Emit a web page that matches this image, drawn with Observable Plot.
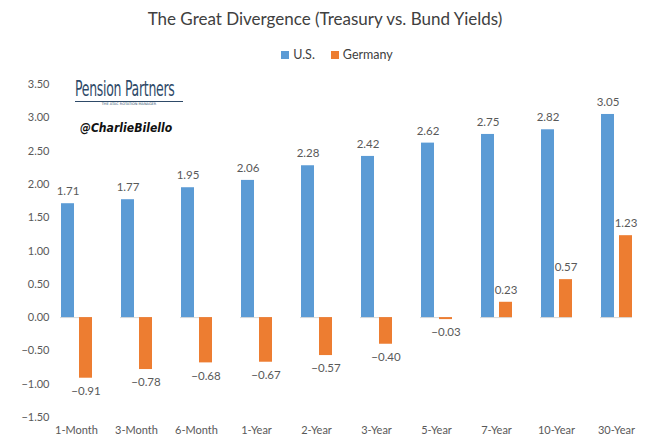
<!DOCTYPE html>
<html>
<head>
<meta charset="utf-8">
<script src="https://cdn.jsdelivr.net/npm/d3@7"></script>
<script src="https://cdn.jsdelivr.net/npm/@observablehq/plot@0.6"></script>
<style>
  html, body { margin: 0; padding: 0; background: #fff; }
  body { width: 650px; height: 448px; overflow: hidden; font-family: Lato, "Open Sans", sans-serif; }
  #wrap { position: relative; width: 650px; height: 448px; }
  #title { position: absolute; top: 8px; left: 0; width: 650px; text-align: center; font-size: 17px; color: #404040; }
  #legend { position: absolute; top: 47px; left: 0; width: 650px; display: flex; justify-content: center; gap: 16px; font-size: 12.5px; color: #404040; padding-left: 24px; box-sizing: border-box; }
  #legend span.sw { display: inline-block; width: 8px; height: 8px; margin-right: 4px; vertical-align: 0px; }
  #chart { position: absolute; top: 70px; left: 0; }
  #logo { position: absolute; top: 78px; left: 75px; width: 110px; }
  #logo .pp { display: inline-block; font-family: "DejaVu Sans Condensed", "DejaVu Sans", sans-serif; font-size: 21px; color: #2e4a68; line-height: 22px; transform: scaleX(0.66); transform-origin: left center; white-space: nowrap; letter-spacing: -0.4px; }
  #logo .sub { font-family: "DejaVu Sans", sans-serif; font-size: 3.5px; color: #2e4a68; border-top: 1px solid #2e4a68; margin-top: 1px; line-height: 4px; text-align: center; width: 108px; }
  #handle { position: absolute; top: 120px; left: 80px; font-family: "DejaVu Sans", sans-serif; font-weight: bold; font-style: italic; font-size: 12.5px; color: #111; transform: scaleX(0.87); transform-origin: left center; }
</style>
</head>
<body>
<div id="wrap">
  <div id="title">The Great Divergence (Treasury vs. Bund Yields)</div>
  <div id="legend">
    <div><span class="sw" style="background:#5b9bd5"></span>U.S.</div>
    <div><span class="sw" style="background:#ed7d31"></span>Germany</div>
  </div>
  <div id="chart"></div>
  <div id="logo"><div class="pp">Pension Partners</div><div class="sub">THE ATAC ROTATION MANAGER</div></div>
  <div id="handle">@CharlieBilello</div>
</div>
<script>
const categories = ["1-Month","3-Month","6-Month","1-Year","2-Year","3-Year","5-Year","7-Year","10-Year","30-Year"];
const series = ["U.S.","Germany"];
const usValues = [1.71, 1.77, 1.95, 2.06, 2.28, 2.42, 2.62, 2.75, 2.82, 3.05];
const deValues = [-0.91, -0.78, -0.68, -0.67, -0.57, -0.40, -0.03, 0.23, 0.57, 1.23];
const yTicks = [-1.5, -1, -0.5, 0, 0.5, 1, 1.5, 2, 2.5, 3, 3.5];
const colors = ["#5b9bd5", "#ed7d31"];

const data = [];
categories.forEach((c, i) => {
  data.push({cat: c, series: series[0], value: usValues[i]});
  data.push({cat: c, series: series[1], value: deValues[i]});
});

const chart = Plot.plot({
  width: 650,
  height: 378,
  marginTop: 14,
  marginBottom: 31,
  marginLeft: 43,
  marginRight: 2,
  style: {fontFamily: "Lato, 'Open Sans', sans-serif", fontSize: "11px", color: "#595959"},
  fx: {domain: categories, paddingInner: 0.47, paddingOuter: 0.235, label: null, axis: "bottom", tickSize: 0, tickPadding: 9},
  x: {domain: series, paddingInner: 0.28, paddingOuter: 0, axis: null},
  y: {domain: [-1.5, 3.5], ticks: yTicks, tickFormat: d => d3.format(".2f")(d), label: null, tickSize: 0, tickPadding: 11},
  color: {domain: series, range: colors},
  marks: [
    Plot.ruleY([0], {stroke: "#d9d9d9", strokeWidth: 1}),
    Plot.barY(data, {fx: "cat", x: "series", y: "value", fill: "series"}),
    Plot.text(data.filter(d => d.value >= 0), {fx: "cat", x: "series", y: "value", text: d => d3.format(".2f")(d.value), dy: -12, fill: "#595959", fontSize: 11.5}),
    Plot.text(data.filter(d => d.value < 0), {fx: "cat", x: "series", y: "value", text: d => d3.format(".2f")(d.value), dy: 13, fill: "#595959", fontSize: 11.5})
  ]
});
document.getElementById("chart").appendChild(chart);
</script>
</body>
</html>
